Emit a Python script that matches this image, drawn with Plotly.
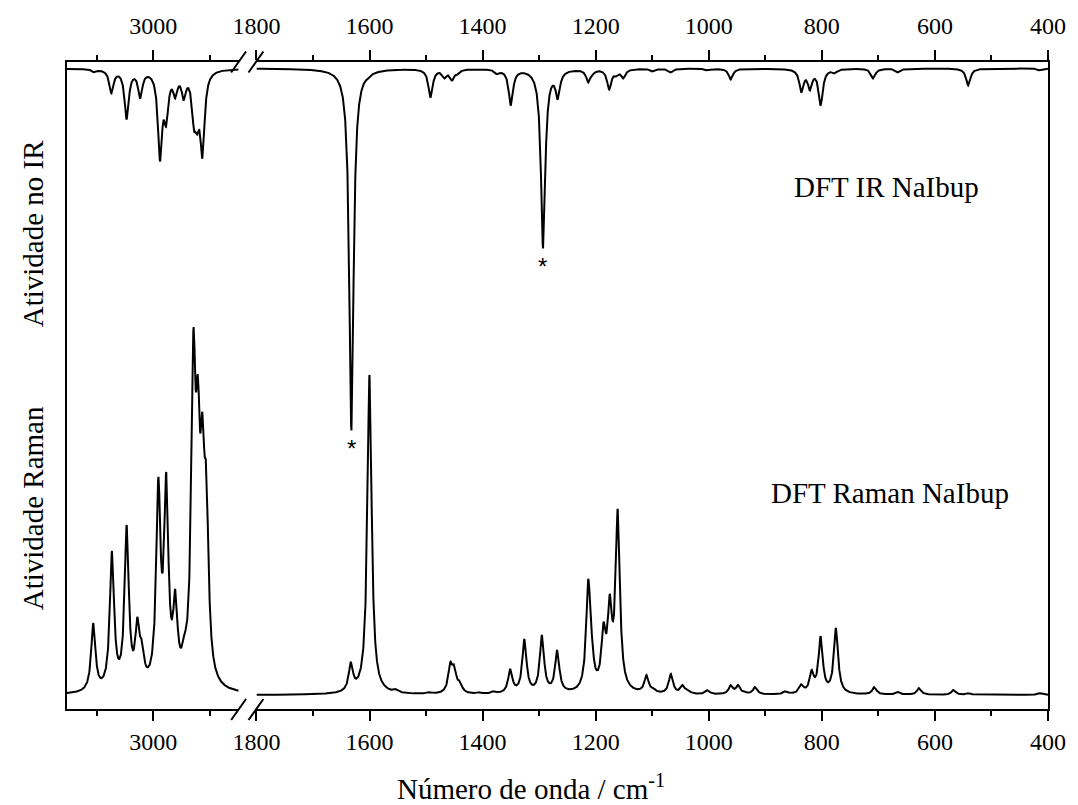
import numpy as np
import plotly.graph_objects as go

# ---------------- data ----------------
# Raman bands: wavenumber (cm-1) and apparent height above baseline (arb. units)
raman_band_cm = [3106, 3073, 3047, 3028, 3020, 2991, 2977, 2961, 2945, 2929, 2921, 2913, 2906,
                 1633, 1600, 1553, 1495, 1457, 1450, 1440, 1405, 1380, 1351, 1326, 1295, 1268,
                 1213, 1207, 1186, 1175, 1161, 1110, 1098, 1067, 1046, 1036, 1002, 961, 948,
                 935, 918, 864, 836, 818, 802, 775, 707, 665, 628, 567, 540, 414]
raman_band_height = [72, 144, 170, 78, 55, 218, 223, 106, 61, 366, 320, 283, 228,
                     33, 320, 6, 3, 33, 30, 14, 3, 4, 26, 56, 60, 45,
                     116, 62, 73, 101, 186, 20, 7, 21, 10, 5, 5, 10, 10,
                     3, 8, 4, 11, 25, 59, 67, 8, 3, 7, 5, 2, 2]

# IR bands: wavenumber (cm-1) and apparent depth below baseline (arb. units)
ir_band_cm = [3104, 3074, 3047, 3023, 2988, 2977, 2961, 2946, 2928, 2922, 2913,
              1632, 1602, 1492, 1467, 1454, 1444, 1374, 1350, 1293, 1267, 1213, 1205,
              1176, 1163, 1151, 1099, 1067, 1002, 961, 836, 821, 802, 777, 709, 665, 541, 414]
ir_band_depth = [4, 25, 51, 30, 93, 58, 30, 32, 62, 66, 90,
                 362, 10, 29, 10, 12, 6, 6, 37, 180, 31, 14, 6,
                 21, 8, 10, 3, 4, 2, 11, 24, 22, 37, 5, 10, 4, 17, 2]

fwhm_cm = 9.0          # Lorentzian band width
raman_baseline = 14.0  # offsets of the two stacked spectra
ir_baseline = 640.5

left_range = [3152.6, 2849.1]
right_range = [1800, 400]
tick_major = 200
tick_minor = 100

# ---------------- build spectra ----------------
hw = fwhm_cm / 2.0


def lorentz_sum(grid, pos, amp):
    g = np.asarray(grid)[:, None]
    p = np.asarray(pos, float)[None, :]
    return (np.asarray(amp)[None, :] / (1 + ((g - p) / hw) ** 2)).sum(axis=1)


def amplitudes(pos, heights):
    p = np.asarray(pos, float)
    A = 1 / (1 + ((p[:, None] - p[None, :]) / hw) ** 2)
    a = np.linalg.solve(A, np.asarray(heights, float))
    return np.clip(a, 0, None)


raman_amp = amplitudes(raman_band_cm, raman_band_height)
ir_amp = amplitudes(ir_band_cm, ir_band_depth)

x_left = np.linspace(left_range[1], left_range[0], 1500)
x_right = np.linspace(right_range[1], right_range[0], 6000)

raman_left = raman_baseline + lorentz_sum(x_left, raman_band_cm, raman_amp)
raman_right = raman_baseline + lorentz_sum(x_right, raman_band_cm, raman_amp)
ir_left = ir_baseline - lorentz_sum(x_left, ir_band_cm, ir_amp)
ir_right = ir_baseline - lorentz_sum(x_right, ir_band_cm, ir_amp)

# ---------------- figure ----------------
FONT = "Liberation Serif"
W, H = 1078, 805
ML, MR, MT, MB = 67, 22, 62, 96
PW, PH = W - ML - MR, H - MT - MB


def px(xp):
    return (xp - ML) / PW


def py(yp):
    return (H - MB - yp) / PH


line = dict(color="black", width=2)
fig = go.Figure()
fig.add_trace(go.Scatter(x=x_left, y=raman_left, mode="lines", line=line, xaxis="x", yaxis="y",
                         hoverinfo="skip", showlegend=False))
fig.add_trace(go.Scatter(x=x_left, y=ir_left, mode="lines", line=line, xaxis="x3", yaxis="y",
                         hoverinfo="skip", showlegend=False))
fig.add_trace(go.Scatter(x=x_right, y=raman_right, mode="lines", line=line, xaxis="x2", yaxis="y2",
                         hoverinfo="skip", showlegend=False))
fig.add_trace(go.Scatter(x=x_right, y=ir_right, mode="lines", line=line, xaxis="x4", yaxis="y2",
                         hoverinfo="skip", showlegend=False))

left_dom = [0, px(240)]
right_dom = [px(258), 1]

tick_font = dict(family=FONT, size=24, color="black")


def xaxis_style(**kw):
    d = dict(showline=True, linecolor="black", linewidth=2, showgrid=False, zeroline=False,
             ticks="outside", ticklen=10, tickwidth=2, tickcolor="black",
             tickmode="linear", dtick=tick_major,
             minor=dict(ticks="outside", ticklen=5, tickwidth=2, tickcolor="black", dtick=tick_minor),
             tickfont=tick_font)
    d.update(kw)
    return d


yr = [0, PH]
fig.update_layout(
    width=W, height=H, margin=dict(l=ML, r=MR, t=MT, b=MB),
    paper_bgcolor="white", plot_bgcolor="white",
    font=dict(family=FONT, size=24, color="black"),
    xaxis=xaxis_style(domain=left_dom, range=left_range, tick0=3000, anchor="y", side="bottom"),
    xaxis3=xaxis_style(range=left_range, tick0=3000, anchor="y", overlaying="x", side="top",
                       ticklabelstandoff=6),
    xaxis2=xaxis_style(domain=right_dom, range=right_range, tick0=400, anchor="y2", side="bottom"),
    xaxis4=xaxis_style(range=right_range, tick0=400, anchor="y2", overlaying="x2", side="top",
                       ticklabelstandoff=6),
    yaxis=dict(domain=[0, 1], range=yr, anchor="x", showline=True, linecolor="black", linewidth=2,
               ticks="", showticklabels=False, showgrid=False, zeroline=False),
    yaxis2=dict(domain=[0, 1], range=yr, anchor="x2", side="right", showline=True, linecolor="black",
                linewidth=2, ticks="", showticklabels=False, showgrid=False, zeroline=False),
)

# axis break marks
shapes = []
for cx in (240, 257.5):
    for cy in (62, 709.5):
        shapes.append(dict(type="line", xref="paper", yref="paper",
                           x0=px(cx - 7.5), y0=py(cy + 10.5), x1=px(cx + 7.5), y1=py(cy - 10.5),
                           line=dict(color="black", width=2)))
fig.update_layout(shapes=shapes)

ann_font = dict(family=FONT, size=29, color="black")
star_font = dict(family="Liberation Sans", size=24, color="black")
annotations = [
    dict(text="Atividade no IR", xref="paper", yref="paper", x=px(33), y=py(233), textangle=-90,
         showarrow=False, font=ann_font, xanchor="center", yanchor="middle"),
    dict(text="Atividade Raman", xref="paper", yref="paper", x=px(33), y=py(508), textangle=-90,
         showarrow=False, font=ann_font, xanchor="center", yanchor="middle"),
    dict(text="Número de onda / cm<sup>-1</sup>", xref="paper", yref="paper", x=px(535), y=py(787),
         showarrow=False, font=ann_font, xanchor="center", yanchor="middle"),
    dict(text="DFT IR NaIbup", xref="paper", yref="paper", x=px(893), y=py(187),
         showarrow=False, font=ann_font, xanchor="center", yanchor="middle"),
    dict(text="DFT Raman NaIbup", xref="paper", yref="paper", x=px(897), y=py(493),
         showarrow=False, font=ann_font, xanchor="center", yanchor="middle"),
    dict(text="*", xref="x4", yref="y2", x=1632, y=PH - (448 - MT), showarrow=False,
         font=star_font, xanchor="center", yanchor="middle"),
    dict(text="*", xref="x4", yref="y2", x=1294, y=PH - (266 - MT), showarrow=False,
         font=star_font, xanchor="center", yanchor="middle"),
]
fig.update_layout(annotations=annotations)

fig.write_html("out.html")
